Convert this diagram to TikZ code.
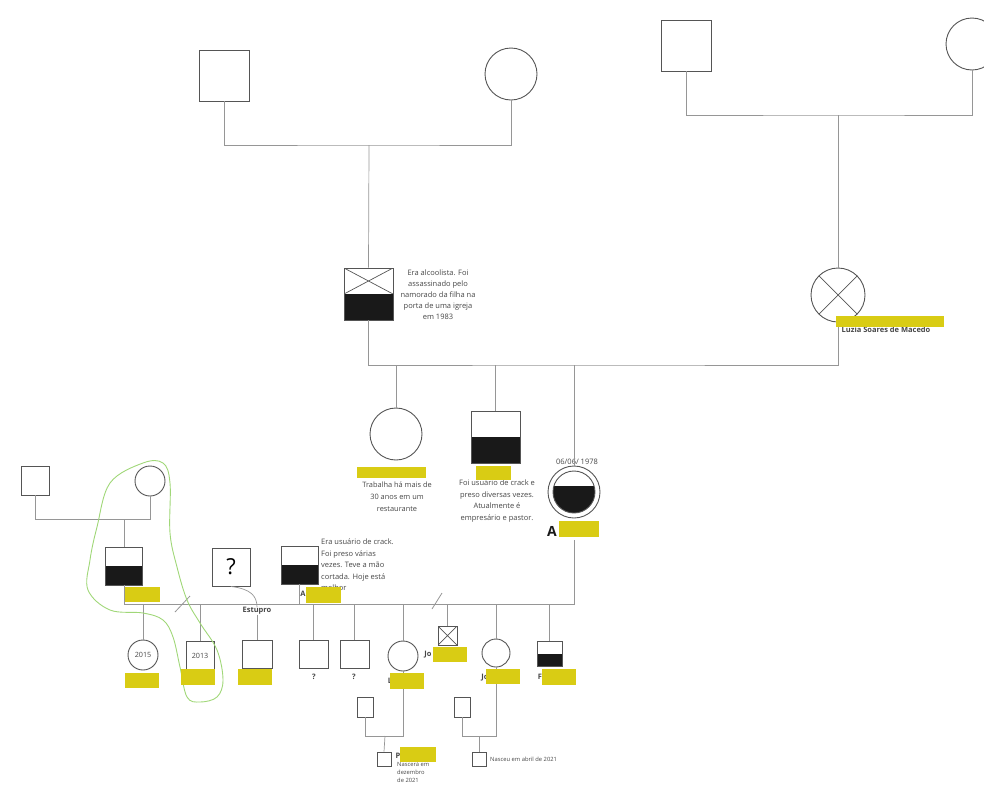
\documentclass[tikz,border=0pt]{standalone}
\usepackage{fontspec}
\setmainfont{Open Sans}
\definecolor{shapegray}{RGB}{85,85,85}
\definecolor{linegray}{RGB}{150,150,150}
\definecolor{textgray}{RGB}{70,70,70}
\definecolor{fillblack}{RGB}{25,25,25}
\definecolor{redyellow}{RGB}{217,204,20}
\definecolor{loopgreen}{RGB}{160,215,120}

\begin{document}
\begin{tikzpicture}[x=1pt,y=-1pt]
        % Define styles
        \tikzset{
            male/.style={rectangle, draw=shapegray, line width=0.9pt, fill=white, minimum width=#1, minimum height=#1, inner sep=0pt},
            female/.style={circle, draw=shapegray, line width=0.9pt, fill=white, minimum size=#1, inner sep=0pt},
            affected/.style={path picture={\fill[fillblack] (path picture bounding box.west) rectangle (path picture bounding box.south east);}},
            affectedhigh/.style={path picture={\fill[fillblack] ([yshift=6pt]path picture bounding box.west) rectangle (path picture bounding box.south east);}},
            deceased/.style={path picture={\draw[shapegray, line width=0.7pt] (path picture bounding box.north west) -- (path picture bounding box.south east) (path picture bounding box.north east) -- (path picture bounding box.south west);}},
            deadaffected/.style={path picture={\draw[shapegray, line width=0.7pt] (path picture bounding box.north west) -- (path picture bounding box.east) (path picture bounding box.north east) -- (path picture bounding box.west);
                \fill[fillblack] (path picture bounding box.west) rectangle (path picture bounding box.south east);}},
            rel/.style={draw=linegray, line width=0.7pt},
            note/.style={font=\fontsize{7.5}{11}\selectfont, align=center, text=textgray, inner sep=0pt},
            smallnote/.style={font=\fontsize{5.8}{8}\selectfont, align=left, text=textgray, inner sep=0pt},
            namelbl/.style={font=\bfseries\fontsize{7.5}{8}\selectfont, text=textgray, inner sep=0pt},
            year/.style={font=\fontsize{7.2}{8}\selectfont, text=textgray},
            redact/.style={fill=redyellow, inner sep=0pt, minimum height=15pt, minimum width=#1}
        }

        \useasboundingbox (0,0) rectangle (984,785);

        % Grandparents
        \node[male=50pt, minimum height=51pt] (gf_left) at (224.5,75.5) {};
        \node[female=52pt] (gm_left) at (511,74) {};
        \node[male=50pt, minimum height=51pt] (gf_right) at (686,45.5) {};
        \node[female=52pt] (gm_right) at (972,44) {};
        \coordinate (union_left) at (369,145);
        \coordinate (union_right) at (838,115);

        % Parents
        \node[male=49pt, minimum height=52pt, deadaffected] (father) at (368.5,294) {};
        \node[note] (father_note) at (438,295) {Era alcoolista. Foi\\assassinado pelo\\namorado da filha na\\porta de uma igreja\\em 1983};
        \node[female=54pt, deceased] (mother) at (838,295) {};
        \node[namelbl] (mother_name) at (886,330) {Luzia Soares de Macedo};
        \coordinate (union_parents) at (574,365);

        % Siblings
        \node[female=52pt] (maria) at (396,434) {};
        \node[note, font=\fontsize{7.4}{12}\selectfont] (maria_note) at (397,497) {Trabalha há mais de\\30 anos em um\\restaurante};
        \node[male=49pt, minimum height=52pt, affected] (brother) at (495.5,437) {};
        \node[note, font=\fontsize{7.5}{11.4}\selectfont] (brother_note) at (497,501) {Foi usuário de crack e\\preso diversas vezes.\\Atualmente é\\empresário e pastor.};
        \node[female=52pt] (ego) at (574,492) {};
        \node[female=42pt, affectedhigh] (ego_inner) at (574,492) {};
        \node[note] (ego_date) at (577,462) {06/06/ 1978};
        \node[font=\bfseries\fontsize{14}{14}\selectfont, text=fillblack, inner sep=0pt] (ego_name) at (552,531) {A};
        \coordinate (ego_drop) at (574,540);

        % Arrows
        \draw[rel] (gf_left.south) |- (union_left) -| (gm_left.south);
        \draw[rel] (union_left) -- (father.north);
        \draw[rel] (gf_right.south) |- (union_right) -| (gm_right.south);
        \draw[rel] (union_right) -- (mother.north);
        \draw[rel] (father.south) |- (union_parents) -| (mother.south);
        \draw[rel] (maria.north |- union_parents) -- (maria.north);
        \draw[rel] (brother.north |- union_parents) -- (brother.north);
        \draw[rel] (union_parents) -- (ego.north);

        % Partner side
        \node[male=28pt, minimum height=29pt] (wgf) at (35,480.5) {};
        \node[female=30pt] (wgm) at (150,481) {};
        \coordinate (union_wife) at (124,519);
        \node[male=37pt, minimum height=38pt, affected] (partner) at (124,566) {};
        \node[male=38pt, font=\fontsize{22}{22}\selectfont] (unknown) at (231,567) {?};
        \node[male=37pt, minimum height=38pt, affected] (brother2) at (299.5,565) {};
        \node[note, font=\fontsize{7.5}{11.5}\selectfont, align=left, anchor=west] (brother2_note) at (321,565) {Era usuário de crack.\\Foi preso várias\\vezes. Teve a mão\\cortada. Hoje está\\melhor};
        \node[namelbl] (brother2_name) at (303,594) {A};
        \coordinate (bar_left) at (124,604);

        \draw[rel] (wgf.south) |- (union_wife) -| (wgm.south);
        \draw[rel] (union_wife) -- (partner.north);
        \draw[rel] (partner.south) -- (bar_left) -| (ego_drop);
        \draw[rel] (brother2.south) -- (brother2.south |- bar_left);
        \draw[rel, line width=0.8pt] (175,612) -- (190,596);
        \draw[rel, line width=0.8pt] (432,609) -- (442,593);

        % Children
        \node[female=30pt, year] (kid2015) at (143,655) {2015};
        \node[male=28pt, minimum height=29pt, year] (kid2013) at (200,655.5) {2013};
        \node[namelbl] (rape_lbl) at (257,611) {Estupro};
        \node[male=30pt, minimum height=28pt] (rape_kid) at (257,654) {};
        \node[male=29pt, minimum height=28pt] (kid_q1) at (313.5,654) {};
        \node[namelbl] (kid_q1_lbl) at (314,677) {?};
        \node[male=29pt, minimum height=28pt] (kid_q2) at (354.5,654) {};
        \node[namelbl] (kid_q2_lbl) at (354,677) {?};
        \node[female=30pt] (kid_l) at (403,656) {};
        \node[namelbl] (kid_l_lbl) at (390,681) {L};
        \node[male=19pt, deceased] (kid_jo) at (447.5,635.5) {};
        \node[namelbl] (kid_jo_lbl) at (428,655) {Jo};
        \node[female=28pt] (kid_ju) at (496,653) {};
        \node[namelbl] (kid_ju_lbl) at (485,678) {Jo};
        \node[male=25pt, affected] (kid_f) at (549.5,653.5) {};
        \node[namelbl] (kid_f_lbl) at (540,677) {F};

        \draw[rel] (kid2015.north |- bar_left) -- (kid2015.north);
        \draw[rel] (kid2013.north |- bar_left) -- (kid2013.north);
        \draw[rel] (unknown.south) .. controls (251,589) and (257,596) .. (rape_lbl.north);
        \draw[rel] (rape_lbl.south) -- (rape_kid.north);
        \draw[rel] (kid_q1.north |- bar_left) -- (kid_q1.north);
        \draw[rel] (kid_q2.north |- bar_left) -- (kid_q2.north);
        \draw[rel] (kid_l.north |- bar_left) -- (kid_l.north);
        \draw[rel] (kid_jo.north |- bar_left) -- (kid_jo.north);
        \draw[rel] (kid_ju.north |- bar_left) -- (kid_ju.north);
        \draw[rel] (kid_f.north |- bar_left) -- (kid_f.north);

        % Grandchildren
        \node[male=16pt, minimum height=20pt] (l_partner) at (365,707) {};
        \coordinate (union_l) at (385,736);
        \node[male=14pt] (l_baby) at (384,759) {};
        \node[namelbl] (l_baby_lbl) at (398,756) {P};
        \node[smallnote, anchor=north west] (l_baby_note) at (397,762) {Nascerá em\\dezembro\\de 2021};
        \node[male=16pt, minimum height=20pt] (ju_partner) at (462,707) {};
        \coordinate (union_ju) at (479,736);
        \node[male=14pt] (ju_baby) at (479,759) {};
        \node[smallnote, anchor=west] (ju_baby_note) at (490,759) {Nasceu em abril de 2021};

        \draw[rel] (l_partner.south) |- (union_l) -| (kid_l.south);
        \draw[rel] (union_l) -- (l_baby.north);
        \draw[rel] (ju_partner.south) |- (union_ju) -| (kid_ju.south);
        \draw[rel] (union_ju) -- (ju_baby.north);

        % Highlight loop
        \draw[loopgreen, line width=0.9pt] plot[smooth cycle, tension=0.6] coordinates {
            (143,463) (163,463) (170,483) (170,533) (177,567) (187,600) (200,623) (217,650)
            (223,680) (217,697) (200,702) (187,697) (180,667) (173,637) (163,620) (143,613)
            (110,610) (88,590) (90,560) (97,527) (110,483)};

        % Hidden names
        \node[redact=108pt, minimum height=11pt] (hide_mother) at (890,321.5) {};
        \node[redact=69pt, minimum height=11pt] (hide_maria) at (391.5,472.5) {};
        \node[redact=35pt, minimum height=14pt] (hide_brother) at (493.5,473) {};
        \node[redact=40pt, minimum height=16pt] (hide_ego) at (579,529) {};
        \node[redact=35pt] (hide_partner) at (142.5,594.5) {};
        \node[redact=35pt, minimum height=16pt] (hide_brother2) at (323.5,595) {};
        \node[redact=34pt] (hide_kid2015) at (142,680.5) {};
        \node[redact=34pt, minimum height=16pt] (hide_kid2013) at (198,677) {};
        \node[redact=34pt, minimum height=16pt] (hide_rape_kid) at (255,677) {};
        \node[redact=34pt, minimum height=16pt] (hide_kid_l) at (407,681) {};
        \node[redact=34pt] (hide_kid_jo) at (450,654.5) {};
        \node[redact=34pt] (hide_kid_ju) at (503,676.5) {};
        \node[redact=34pt, minimum height=16pt] (hide_kid_f) at (559,677) {};
        \node[redact=36pt] (hide_l_baby) at (418,754.5) {};
\end{tikzpicture}
\end{document}
